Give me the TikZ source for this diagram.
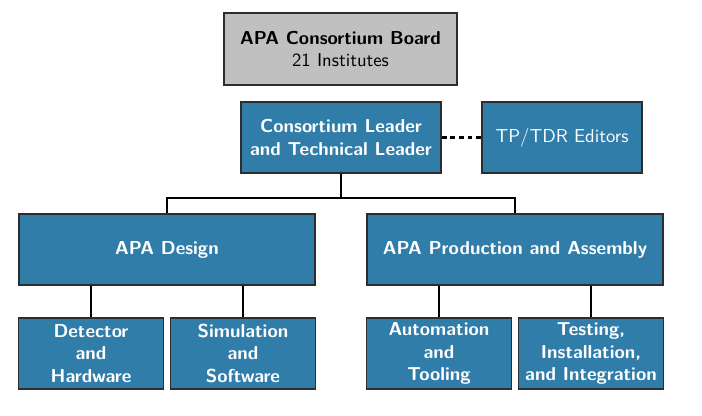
\documentclass[tikz,border=0pt]{standalone}
\usepackage{tikz}
\usetikzlibrary{positioning}
\definecolor{apablue}{RGB}{49,125,170}
\definecolor{boardgray}{RGB}{192,192,192}
\definecolor{edgegray}{RGB}{45,45,45}

\begin{document}
\begin{tikzpicture}[x=0.535pt, y=-0.535pt,
    every node/.style={font=\sffamily, align=center, inner sep=0pt},
    orgbox/.style={draw=edgegray, line width=0.9pt, fill=apablue, text=white, font=\sffamily\bfseries},
    boardbox/.style={draw=edgegray, line width=0.9pt, fill=boardgray, text=black,
      minimum width=124.7pt, minimum height=38.5pt},
    bigbox/.style={orgbox, minimum width=158.4pt, minimum height=38pt},
    midbox/.style={orgbox, minimum width=107pt, minimum height=38pt},
    smallbox/.style={orgbox, minimum width=77.6pt, minimum height=38pt},
    link/.style={draw=black, line width=1pt}]
  \useasboundingbox (0,0) rectangle (702,416);
  % top of the tree
  \node[boardbox] (board) at (340.5,49) {\textbf{APA Consortium Board}\\21 Institutes};
  \node[midbox] (leader) at (341,137.5) {Consortium Leader\\and Technical Leader};
  \node[orgbox, font=\sffamily, minimum width=85.6pt, minimum height=38pt] (editors) at (562,137.5) {TP/TDR Editors};
  % working groups
  \node[bigbox] (design) at (167,249.5) {APA Design};
  \node[bigbox] (prod) at (515,249.5) {APA Production and Assembly};
  \node[smallbox] (detector) at (91,353.5) {Detector\\and\\Hardware};
  \node[smallbox] (simul) at (243,353.5) {Simulation\\and\\Software};
  \node[smallbox] (autom) at (439,353.5) {Automation\\and\\Tooling};
  \node[smallbox] (testing) at (591,353.5) {Testing,\\Installation,\\and Integration};
  % connectors
  \draw[link, line width=1.1pt, dash pattern=on 2.6pt off 2pt] (leader.east) -- (editors.west);
  \coordinate (split) at (341,198);
  \draw[link] (leader.south) -- (split);
  \draw[link] (design.north) |- (split) -| (prod.north);
  \draw[link] (design.south -| detector.north) -- (detector.north);
  \draw[link] (design.south -| simul.north) -- (simul.north);
  \draw[link] (prod.south -| autom.north) -- (autom.north);
  \draw[link] (prod.south -| testing.north) -- (testing.north);
\end{tikzpicture}
\end{document}
